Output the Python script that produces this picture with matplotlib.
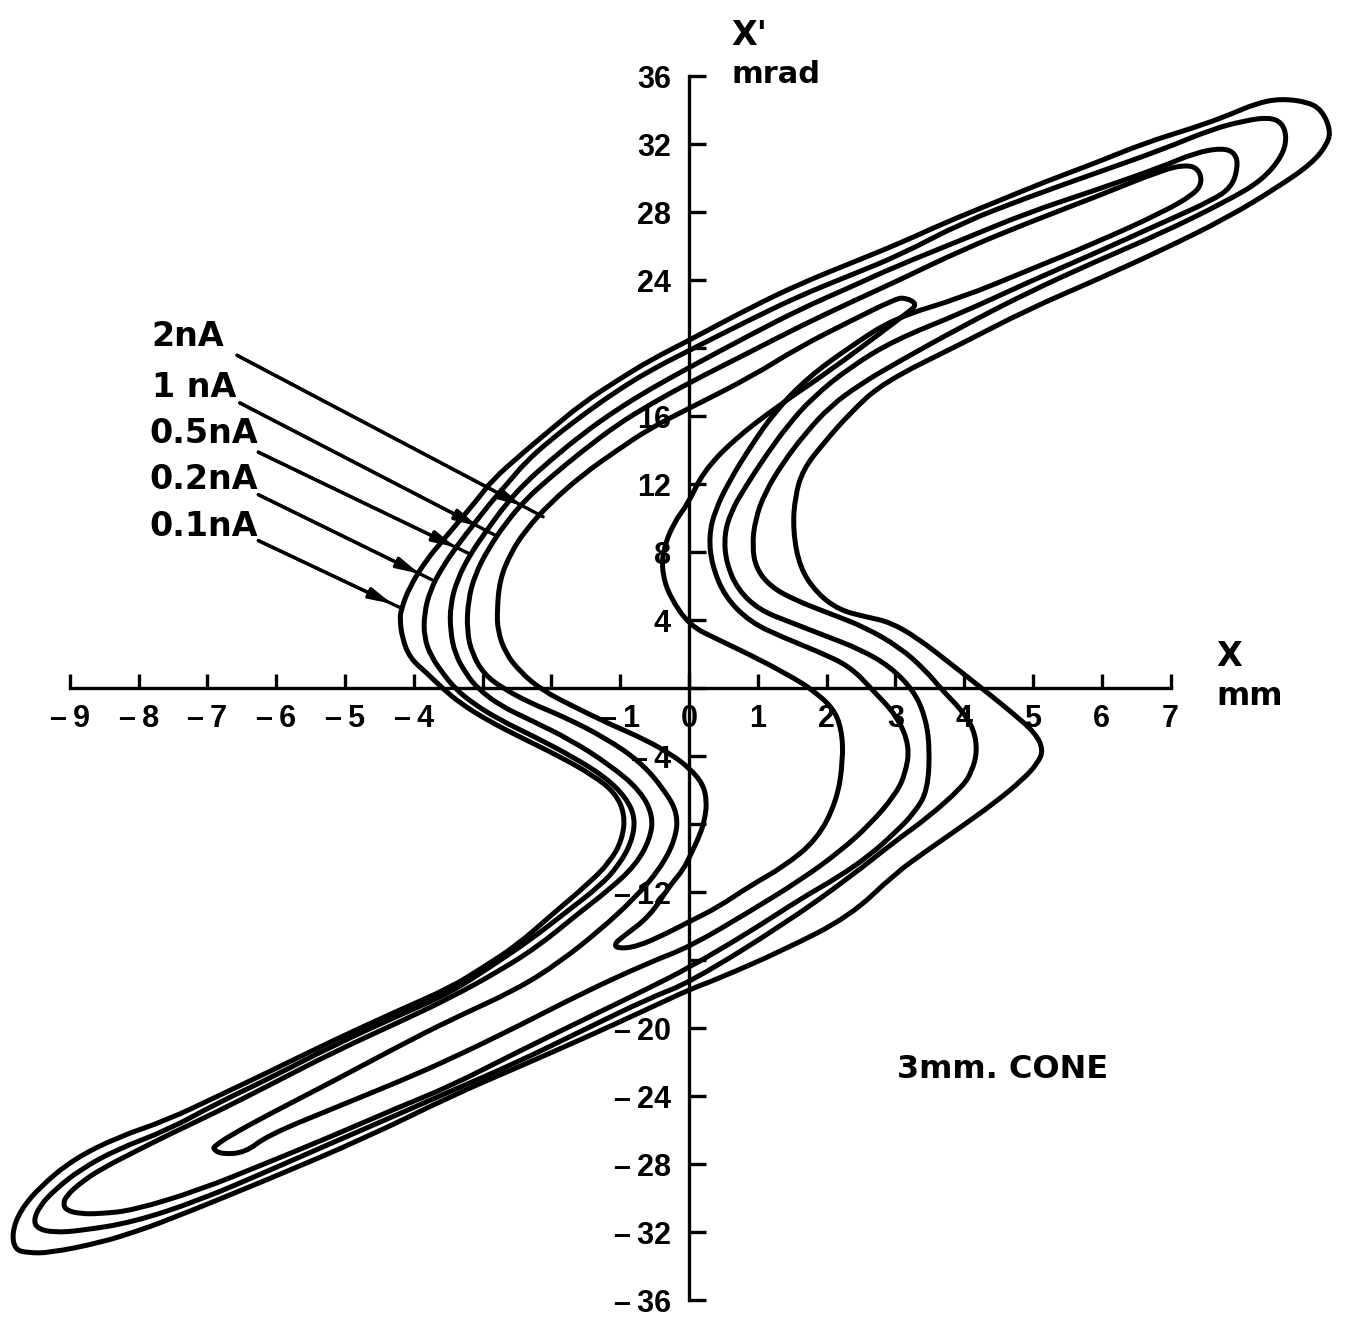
import matplotlib.pyplot as plt
import numpy as np
from matplotlib.path import Path
from matplotlib.patches import PathPatch

# Emittance contours (x in mm, x' in mrad), one closed outline per beam current.
contour_01nA = [
    (9.32, 32.9), (9.20, 34.0), (9.00, 34.5), (8.59, 34.7), (8.23, 34.4), (7.83, 33.7),
    (7.35, 33.0), (6.63, 32.1), (5.90, 30.9), (5.17, 29.8), (4.45, 28.6), (3.72, 27.4),
    (3.07, 26.2), (2.34, 25.0), (1.61, 23.8), (0.89, 22.4), (0.01, 20.5), (-0.57, 19.3),
    (-1.05, 18.1), (-1.54, 16.8), (-2.02, 15.2), (-2.46, 13.7), (-2.85, 12.3), (-3.08, 11.1),
    (-3.33, 9.9), (-3.58, 8.7), (-3.81, 7.6), (-4.06, 6.0), (-4.19, 4.6), (-4.20, 4.0),
    (-4.17, 3.0), (-4.06, 1.8), (-3.81, 0.9), (-3.58, 0.0), (-3.33, -0.85), (-2.94, -1.85),
    (-2.46, -2.85), (-1.88, -4.0), (-1.40, -5.1), (-1.08, -6.1), (-0.93, -7.4), (-0.97, -8.9),
    (-1.15, -10.2), (-1.44, -11.4), (-2.02, -13.4), (-2.50, -15.1), (-2.99, -16.4), (-3.47, -17.6),
    (-4.20, -18.9), (-5.17, -20.7), (-6.13, -22.6), (-6.86, -24.0), (-7.59, -25.4), (-8.31, -26.4),
    (-8.95, -27.7), (-9.43, -29.3), (-9.72, -30.7), (-9.84, -32.0), (-9.80, -33.0), (-9.62, -33.2),
    (-9.29, -33.2), (-8.56, -32.6), (-8.08, -32.0), (-7.59, -31.3), (-6.13, -28.9), (-4.68, -26.4),
    (-3.47, -24.0), (-2.50, -22.3), (-1.54, -20.6), (-0.57, -18.8), (0.01, -17.7), (0.41, -17.1),
    (1.37, -15.4), (2.34, -13.4), (2.99, -10.9), (3.47, -9.5), (3.97, -8.1), (4.45, -6.7),
    (4.84, -5.4), (5.07, -4.4), (5.15, -3.6), (5.03, -2.6), (4.69, -1.4), (4.26, 0.0),
    (3.79, 1.5), (3.31, 3.0), (2.92, 3.9), (2.59, 4.2), (2.19, 4.6), (1.86, 5.6),
    (1.61, 7.1), (1.51, 9.3), (1.54, 11.3), (1.66, 12.9), (1.95, 14.4), (2.34, 16.2),
    (2.82, 18.0), (3.97, 20.3), (4.93, 22.3), (5.90, 24.0), (6.88, 25.8), (7.83, 27.7),
    (8.56, 29.5), (9.06, 30.9), (9.29, 32.1),
]

contour_02nA = [
    (8.69, 32.4), (8.62, 33.3), (8.42, 33.6), (8.08, 33.4), (7.60, 32.9), (6.88, 31.7),
    (5.90, 30.3), (4.93, 28.9), (3.97, 27.4), (3.07, 25.5), (2.34, 24.3), (1.61, 23.1),
    (0.89, 21.7), (0.01, 19.9), (-0.57, 18.7), (-1.05, 17.5), (-1.54, 16.1), (-2.02, 14.6),
    (-2.38, 13.3), (-2.63, 12.1), (-2.89, 10.9), (-3.14, 9.6), (-3.37, 8.4), (-3.59, 7.1),
    (-3.76, 5.8), (-3.85, 4.4), (-3.85, 3.0), (-3.75, 1.9), (-3.58, 0.9), (-3.40, 0.0),
    (-3.15, -0.85), (-2.75, -1.85), (-2.24, -2.85), (-1.70, -4.0), (-1.22, -5.2), (-0.92, -6.4),
    (-0.78, -7.6), (-0.83, -9.0), (-1.02, -10.4), (-1.29, -11.6), (-1.80, -13.2), (-2.31, -14.8),
    (-2.86, -16.3), (-3.47, -17.9), (-4.20, -19.2), (-5.17, -21.0), (-6.13, -23.0), (-6.86, -24.4),
    (-7.59, -26.0), (-8.31, -27.1), (-8.85, -28.3), (-9.22, -29.5), (-9.43, -30.4), (-9.53, -31.3),
    (-9.46, -31.8), (-9.22, -32.0), (-8.85, -31.9), (-8.08, -31.4), (-7.11, -30.1), (-6.13, -28.4),
    (-5.17, -26.7), (-4.20, -25.0), (-3.47, -23.7), (-2.50, -22.0), (-1.54, -20.1), (-0.57, -18.2),
    (0.01, -17.3), (1.37, -13.9), (2.34, -11.1), (2.99, -9.0), (3.47, -7.6), (3.97, -5.8),
    (4.11, -4.9), (4.19, -3.7), (4.14, -2.4), (3.97, -1.3), (3.68, -0.1), (3.43, 1.1),
    (3.07, 2.4), (2.56, 3.6), (2.05, 4.4), (1.54, 5.2), (1.18, 6.0), (0.97, 7.1),
    (0.92, 8.4), (0.96, 9.9), (1.10, 11.5), (1.37, 13.3), (1.69, 15.0), (2.05, 16.6),
    (2.49, 17.9), (2.99, 19.1), (3.97, 21.3), (4.93, 23.3), (5.90, 25.1), (6.88, 26.8),
    (7.83, 28.7), (8.33, 29.9), (8.62, 31.3),
]

contour_05nA = [
    (7.98, 30.7), (7.94, 31.5), (7.75, 31.8), (7.35, 31.5), (6.88, 30.7), (5.90, 29.3),
    (4.93, 28.0), (3.97, 26.4), (2.99, 24.8), (2.34, 23.6), (1.61, 22.3), (0.89, 20.8),
    (0.01, 18.9), (-0.57, 17.6), (-1.05, 16.4), (-1.54, 15.0), (-2.02, 13.4), (-2.38, 12.1),
    (-2.67, 10.8), (-2.94, 9.3), (-3.18, 7.9), (-3.37, 6.4), (-3.47, 4.9), (-3.47, 3.4),
    (-3.40, 2.0), (-3.23, 0.8), (-3.07, 0.0), (-2.75, -1.0), (-2.31, -1.85), (-1.73, -3.0),
    (-1.15, -4.5), (-0.71, -6.0), (-0.52, -7.5), (-0.57, -8.9), (-0.78, -10.4), (-1.15, -11.8),
    (-1.66, -13.4), (-2.17, -15.1), (-2.75, -16.6), (-3.47, -18.2), (-4.20, -19.6), (-5.17, -21.4),
    (-6.13, -23.4), (-6.86, -24.9), (-7.59, -26.3), (-8.08, -27.3), (-8.56, -28.3), (-8.85, -29.1),
    (-9.04, -29.8), (-9.10, -30.3), (-9.05, -30.7), (-8.85, -30.9), (-8.56, -30.9), (-8.08, -30.7),
    (-7.11, -29.5), (-6.13, -27.9), (-5.17, -26.3), (-4.20, -24.6), (-3.47, -23.4), (-2.50, -21.4),
    (-1.54, -19.5), (-0.57, -17.6), (0.01, -16.4), (0.89, -14.3), (1.61, -12.4), (2.17, -11.1),
    (2.63, -9.8), (2.99, -8.5), (3.28, -7.3), (3.47, -6.0), (3.50, -3.4), (3.43, -1.6),
    (3.26, -0.1), (2.92, 1.3), (2.49, 2.3), (1.98, 3.1), (1.47, 3.9), (1.03, 4.6),
    (0.71, 5.8), (0.54, 7.4), (0.51, 9.0), (0.61, 10.4), (0.81, 11.8), (1.10, 13.6),
    (1.42, 15.4), (1.79, 17.1), (2.34, 18.9), (2.99, 20.5), (3.97, 22.1), (4.93, 23.9),
    (5.90, 25.6), (6.88, 27.4), (7.60, 28.7), (7.89, 29.5),
]

contour_1nA = [
    (7.46, 29.8), (7.40, 30.6), (7.21, 30.8), (6.88, 30.5), (5.90, 28.9), (4.93, 27.4),
    (3.97, 25.8), (2.99, 23.9), (2.34, 22.7), (1.61, 21.3), (0.89, 19.8), (0.01, 18.0),
    (-0.57, 16.7), (-1.05, 15.5), (-1.54, 14.0), (-2.02, 12.4), (-2.38, 11.1), (-2.67, 9.7),
    (-2.92, 8.2), (-3.11, 6.7), (-3.21, 5.2), (-3.23, 3.4), (-3.15, 2.0), (-2.97, 0.8),
    (-2.70, 0.0), (-2.31, -0.85), (-1.80, -1.7), (-1.22, -2.9), (-0.71, -4.3), (-0.35, -6.0),
    (-0.16, -7.4), (-0.20, -8.9), (-0.42, -10.6), (-0.78, -12.3), (-1.29, -14.2), (-1.88, -16.1),
    (-2.50, -17.7), (-3.47, -19.5), (-4.20, -21.0), (-5.17, -23.1), (-6.13, -25.1), (-6.67, -26.3),
    (-6.89, -26.9), (-6.92, -27.1), (-6.79, -27.4), (-6.45, -27.3), (-6.13, -26.3), (-5.17, -24.7),
    (-4.20, -23.1), (-3.47, -21.8), (-2.50, -19.9), (-1.54, -17.9), (-0.57, -16.1), (0.01, -15.2),
    (0.89, -13.1), (1.61, -11.3), (2.19, -9.6), (2.63, -8.0), (2.99, -6.3), (3.14, -5.1),
    (3.21, -3.4), (3.02, -1.6), (2.67, -0.1), (2.34, 1.3), (1.86, 2.2), (1.37, 3.0),
    (0.89, 3.9), (0.52, 5.4), (0.33, 7.3), (0.29, 9.0), (0.38, 10.5), (0.60, 12.3),
    (0.89, 14.2), (1.25, 16.3), (1.73, 18.3), (2.34, 20.1), (2.99, 21.8), (3.97, 23.0),
    (4.93, 24.6), (5.90, 26.2), (6.88, 28.0), (7.35, 29.1),
]

contour_2nA = [
    (3.33, 22.6), (3.14, 23.0), (2.99, 22.9), (2.34, 21.6), (1.61, 20.1), (0.89, 18.3),
    (0.01, 16.5), (-0.57, 15.3), (-1.05, 14.0), (-1.54, 12.6), (-2.02, 10.9), (-2.38, 9.3),
    (-2.60, 7.9), (-2.75, 6.4), (-2.79, 4.6), (-2.78, 3.4), (-2.67, 2.1), (-2.46, 1.0),
    (-2.14, -0.1), (-1.66, -1.1), (-1.15, -2.1), (-0.64, -3.0), (-0.25, -3.9), (0.01, -4.7),
    (0.20, -5.6), (0.26, -6.6), (0.23, -7.7), (0.16, -8.6), (0.01, -9.9), (-0.09, -10.7),
    (-0.28, -11.6), (-0.57, -13.4), (-0.96, -14.6), (-1.08, -15.0), (-1.05, -15.3), (-0.76, -15.2),
    (-0.32, -14.4), (0.01, -13.7), (0.41, -12.9), (0.89, -11.6), (1.37, -10.5), (1.86, -8.9),
    (2.15, -6.6), (2.24, -4.2), (2.22, -2.4), (2.09, -1.1), (1.76, 0.0), (1.57, 0.5),
    (1.03, 1.7), (0.41, 2.9), (0.01, 3.7), (-0.28, 5.4), (-0.39, 6.8), (-0.38, 8.1),
    (-0.23, 9.7), (-0.01, 10.9), (0.20, 12.7), (0.64, 14.6), (1.32, 16.7), (2.05, 18.7),
    (2.78, 20.9), (3.14, 22.0),
]

contours = [contour_01nA, contour_02nA, contour_05nA, contour_1nA, contour_2nA]

# Current labels with leader start (next to the text) and end (on the contour)
current_labels = ["2nA", "1 nA", "0.5nA", "0.2nA", "0.1nA"]
label_pos = [(-7.81, 20.7), (-7.81, 17.7), (-7.84, 15.0), (-7.84, 12.3), (-7.84, 9.5)]
leader_start = [(-6.57, 19.6), (-6.53, 16.8), (-6.26, 13.9), (-6.26, 11.4), (-6.26, 8.7)]
leader_end = [(-2.12, 10.1), (-2.81, 9.0), (-3.18, 7.9), (-3.74, 6.4), (-4.17, 4.7)]

x_ticks = list(range(-9, 8))
x_ticklabels = ["\u2013\u20099", "\u2013\u20098", "\u2013\u20097", "\u2013\u20096", "\u2013\u20095",
                "\u2013\u20094", "", "", "\u2013\u20091", "0", "1", "2", "3", "4", "5", "6", "7"]
y_ticks = list(range(-36, 37, 4))
y_ticklabels = ["\u2013\u200936", "\u2013\u200932", "\u2013\u200928", "\u2013\u200924", "\u2013\u200920",
                "", "\u2013\u200912", "", "\u2013\u20094", "", "4", "8", "12", "16", "", "24",
                "28", "32", "36"]


def smooth_loop(points):
    """Closed quadratic-Bezier path with the given points as control points."""
    pts = np.asarray(points, dtype=float)
    mids = (pts + np.roll(pts, -1, axis=0)) / 2
    verts = [mids[-1]]
    codes = [Path.MOVETO]
    for p, m in zip(pts, mids):
        verts += [p, m]
        codes += [Path.CURVE3, Path.CURVE3]
    return Path(verts, codes)


fig = plt.figure(figsize=(13.45, 13.2), dpi=100, facecolor="white")
ax = fig.add_axes([0, 0, 1, 1])
ax.set_xlim(-10.015, 9.535)
ax.set_ylim(-37.15, 40.5)

for outline in contours:
    ax.add_patch(PathPatch(smooth_loop(outline), facecolor="none", edgecolor="black",
                           lw=3.6, joinstyle="round", zorder=3))

for spine in ("top", "right"):
    ax.spines[spine].set_visible(False)
ax.spines["left"].set_position(("data", 0))
ax.spines["bottom"].set_position(("data", 0))
ax.spines["left"].set_bounds(-36, 36)
ax.spines["bottom"].set_bounds(-9, 7)
for spine in ("left", "bottom"):
    ax.spines[spine].set_linewidth(2.4)

ax.set_xticks(x_ticks)
ax.set_xticklabels(x_ticklabels)
ax.set_yticks(y_ticks)
ax.set_yticklabels(y_ticklabels)
ax.tick_params(axis="x", direction="in", length=10, width=2.4, pad=11)
ax.tick_params(axis="y", direction="in", length=12, width=2.4, pad=13)
for lab in ax.get_xticklabels() + ax.get_yticklabels():
    lab.set_family(["Liberation Sans", "DejaVu Sans"])
    lab.set_fontsize(22)
    lab.set_fontweight("bold")

ax.text(0.62, 38.4, "X'", fontsize=24, ha="left", va="center", fontweight="bold")
ax.text(0.62, 36.1, "mrad", fontsize=22, ha="left", va="center", fontweight="bold")
ax.text(7.67, 1.9, "X", fontsize=24, ha="left", va="center", fontweight="bold")
ax.text(7.67, -0.5, "mm", fontsize=23, ha="left", va="center", fontweight="bold")
ax.text(3.02, -22.4, "3mm. CONE", fontsize=23, ha="left", va="center", fontweight="bold")

for text, pos, start, end in zip(current_labels, label_pos, leader_start, leader_end):
    ax.text(pos[0], pos[1], text, fontsize=24, ha="left", va="center", fontweight="bold")
    start = np.array(start)
    end = np.array(end)
    ax.plot([start[0], end[0]], [start[1], end[1]], color="black", lw=2.4,
            solid_capstyle="round", zorder=4)
    head = start + (end - start) * 0.93
    ax.annotate("", xy=head, xytext=start,
                arrowprops=dict(arrowstyle="-|>,head_length=0.9,head_width=0.22",
                                color="black", lw=2.4, shrinkA=0, shrinkB=0,
                                mutation_scale=15),
                zorder=4)

fig.savefig("out.png", dpi=100, facecolor="white")
